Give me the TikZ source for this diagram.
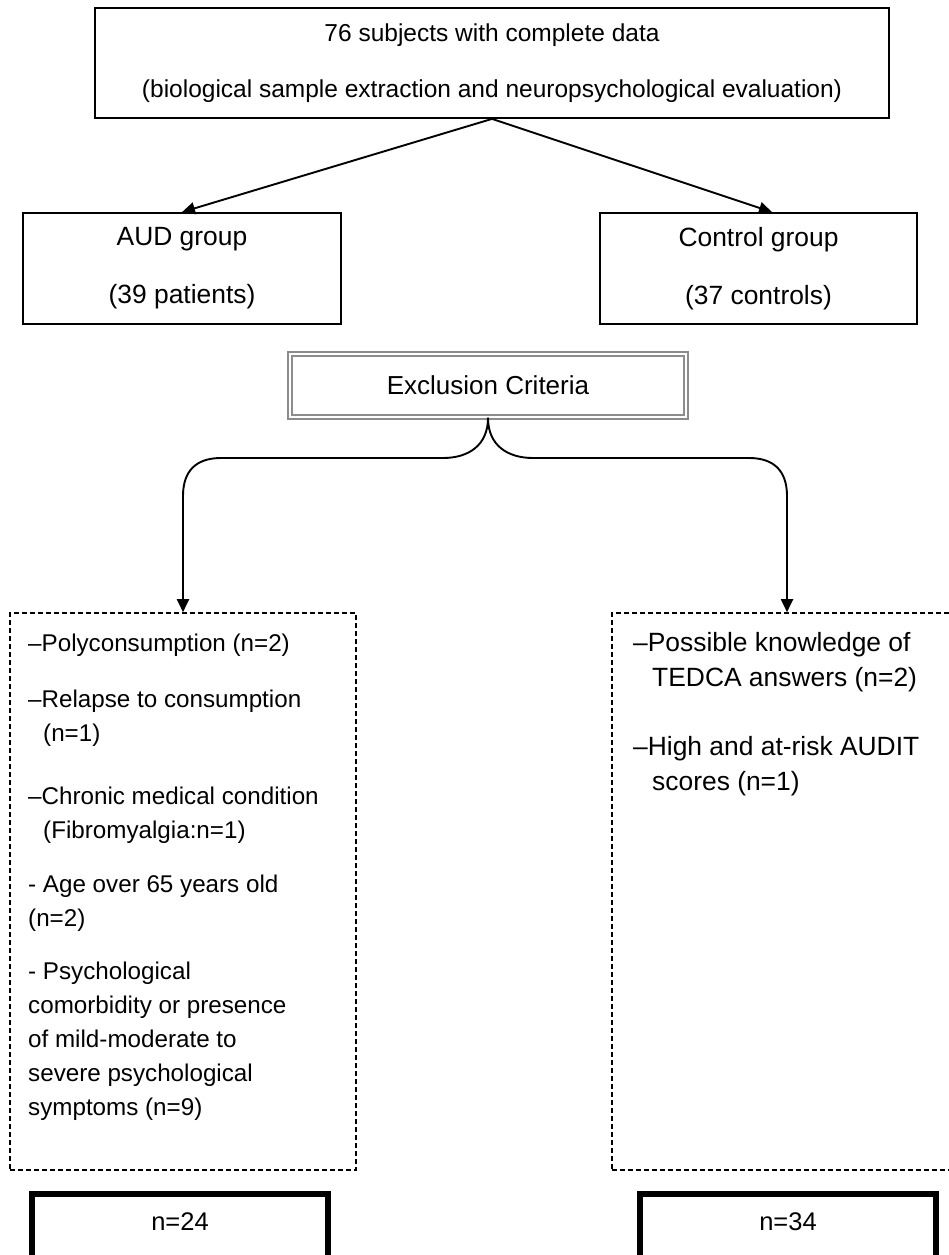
\documentclass[tikz,border=0pt]{standalone}
\usepackage{fontspec}
\setmainfont{Liberation Sans}
\usetikzlibrary{arrows.meta,calc,positioning}
\def\ind#1{\hspace*{#1pt}}

\begin{document}
\begin{tikzpicture}[x=1pt,y=-1pt,
	box/.style={draw, line width=1.8pt, inner sep=0pt, align=center, font=\fontsize{26.4}{58}\selectfont},
	topbox/.style={box, font=\fontsize{24.5}{56}\selectfont},
	exclbox/.style={draw=black!45, line width=1.5pt, double=white, double distance=2.2pt, inner sep=0pt, font=\fontsize{26}{30}\selectfont},
	listbox/.style={draw, line width=1.6pt, dash pattern=on 5pt off 3pt, inner sep=0pt},
	countbox/.style={draw, line width=6.5pt, inner sep=0pt},
	item/.style={anchor=base west, inner sep=0pt, align=left, font=\fontsize{24.2}{34}\selectfont},
	itemR/.style={item, font=\fontsize{26.4}{35}\selectfont},
	arr/.style={line width=1.9pt, -{Triangle[length=13pt,width=12pt]}}]
			%%%%% START %%%%%
			\useasboundingbox (0,0) rectangle (949,1255);
			
			\node[topbox, minimum width=794, minimum height=110] (top) at (492,63) {76 subjects with complete data\\(biological sample extraction and neuropsychological evaluation)};
			
			\node[box, minimum width=318, minimum height=111] (aud) at (182,268.5) {AUD group\\(39 patients)};
			\node[box, minimum width=317, minimum height=111] (control) at (758.5,268.5) {Control group\\(37 controls)};
			
			\draw[arr] (top.south) -- (aud.north);
			\draw[arr] (top.south) -- ($(control.north)+(13.5,0)$);
			
			\node[exclbox, minimum width=396, minimum height=63] (excl) at (488,385.5) {Exclusion Criteria};
			
			\node[listbox, minimum width=346, minimum height=557] (listL) at (183,891.5) {};
			\node[listbox, minimum width=350, minimum height=557] (listR) at (787,891.5) {};
			
			% brace split, then down into the two lists
			\coordinate (split) at (488,458);
			\draw[arr] (excl.south) .. controls +(0,28) and +(25,0) .. ($(split)+(-45,0)$) -- ($(listL.north |- split)+(38,0)$) .. controls +(-25,0) and +(0,-25) .. ($(listL.north |- split)+(0,38)$) -- (listL.north);
			\draw[arr] (excl.south) .. controls +(0,28) and +(-25,0) .. ($(split)+(45,0)$) -- ($(listR.north |- split)+(-38,0)$) .. controls +(25,0) and +(0,-25) .. ($(listR.north |- split)+(0,38)$) -- (listR.north);
			
			% base = last line
			\node[item] (poly) at (28,651) {\textendash Polyconsumption (n=2)};
			\node[item] (relapse) at (28,741) {\textendash Relapse to consumption\\\ind{15}(n=1)};
			\node[item] (chronic) at (28,838) {\textendash Chronic medical condition\\\ind{15}(Fibromyalgia:n=1)};
			\node[item] (age) at (28,926) {- Age over 65 years old\\(n=2)};
			\node[item] (psych) at (28,1115) {- Psychological\\comorbidity or presence\\of mild-moderate to\\severe psychological\\symptoms (n=9)};
			
			\node[itemR] (tedca) at (633,686) {\textendash Possible knowledge of\\\ind{19}TEDCA answers (n=2)};
			\node[itemR] (audit) at (633,790) {\textendash High and at-risk AUDIT\\\ind{19}scores (n=1)};
			
			\node[countbox, minimum width=296, minimum height=76, label={[font=\fontsize{25.5}{30}\selectfont, yshift=10pt]center:n=24}] (nL) at (180,1232) {};
			\node[countbox, minimum width=296, minimum height=76, label={[font=\fontsize{25.5}{30}\selectfont, yshift=10pt]center:n=34}] (nR) at (788,1232) {};
			
			%%%%% END %%%%%
\end{tikzpicture}
\end{document}
